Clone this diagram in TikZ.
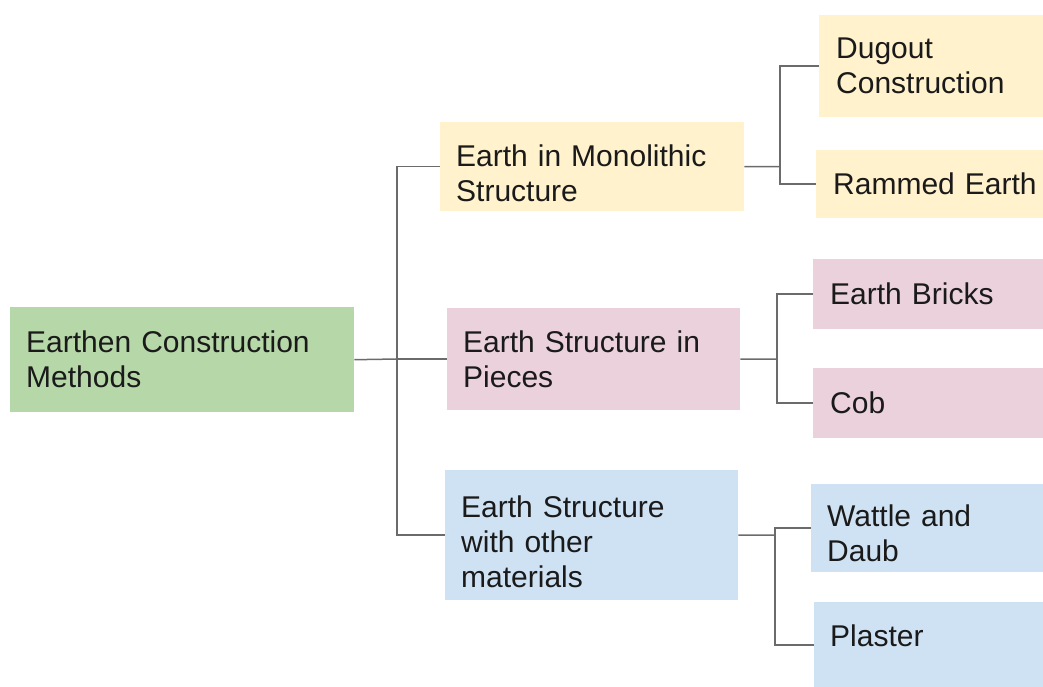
\documentclass[tikz,border=0pt]{standalone}
\usepackage{fontspec}
\setmainfont{Liberation Sans}
\definecolor{gC}{HTML}{B6D7A8}
\definecolor{yC}{HTML}{FFF2CC}
\definecolor{pC}{HTML}{EAD1DC}
\definecolor{bC}{HTML}{CFE2F3}
\definecolor{lineC}{HTML}{6B6B6B}
\definecolor{txtC}{HTML}{1A1A1A}
\begin{document}
\begin{tikzpicture}[x=1pt,y=1pt,
  box/.style={rectangle, draw=none, anchor=north west, inner xsep=16pt, inner ysep=0pt,
    align=left, text=txtC, font=\fontsize{30}{35}\selectfont},
  conn/.style={draw=lineC, line width=1.5pt}]
\useasboundingbox (0,0) rectangle (1043,-686);
% left column
\node[box, fill=gC, minimum width=344, minimum height=105, text width=312] (root) at (10,-307) {Earthen Construction\\Methods};
% middle column
\node[box, fill=yC, minimum width=304, minimum height=89, text width=272, text height=34pt] (mono) at (440,-122) {Earth in Monolithic\\Structure};
\node[box, fill=pC, minimum width=293, minimum height=102, text width=261] (pieces) at (447,-308) {Earth Structure in\\Pieces};
\node[box, fill=bC, minimum width=293, minimum height=130, text width=261, text height=34pt] (other) at (445,-470) {Earth Structure\\with other\\materials};
% right column
\node[box, fill=yC, minimum width=260, minimum height=102, text width=228, inner xsep=17pt] (dugout) at (819,-15) {Dugout\\Construction};
\node[box, fill=yC, minimum width=260, minimum height=68, text width=228, inner xsep=17pt] (rammed) at (816,-150) {Rammed Earth};
\node[box, fill=pC, minimum width=260, minimum height=70, text width=228, inner xsep=17pt] (bricks) at (813,-259) {Earth Bricks};
\node[box, fill=pC, minimum width=260, minimum height=70, text width=228, inner xsep=17pt] (cob) at (813,-368) {Cob};
\node[box, fill=bC, minimum width=260, minimum height=88, text width=228, text height=32pt] (wattle) at (811,-484) {Wattle and\\Daub};
\node[box, fill=bC, minimum width=260, minimum height=86, text width=228, text height=21.5pt, text depth=18pt] (plaster) at (814,-602) {Plaster};
% junctions
\coordinate (j1) at (397,-359);
\coordinate (j2) at (780,-166.5);
\coordinate (j3) at (777,-359);
\coordinate (j4) at (775,-535);
% connectors
\draw[conn] (root.east) -- (j1);
\draw[conn] (j1) |- (mono.west);
\draw[conn] (j1) |- (pieces.west);
\draw[conn] (j1) |- (other.west);
\draw[conn] (mono.east) -- (j2);
\draw[conn] (j2) |- (dugout.west);
\draw[conn] (j2) |- (rammed.west);
\draw[conn] (pieces.east) -- (j3);
\draw[conn] (j3) |- (bricks.west);
\draw[conn] (j3) |- (cob.west);
\draw[conn] (other.east) -- (j4);
\draw[conn] (j4) |- (wattle.west);
\draw[conn] (j4) |- (plaster.west);
\end{tikzpicture}
\end{document}
